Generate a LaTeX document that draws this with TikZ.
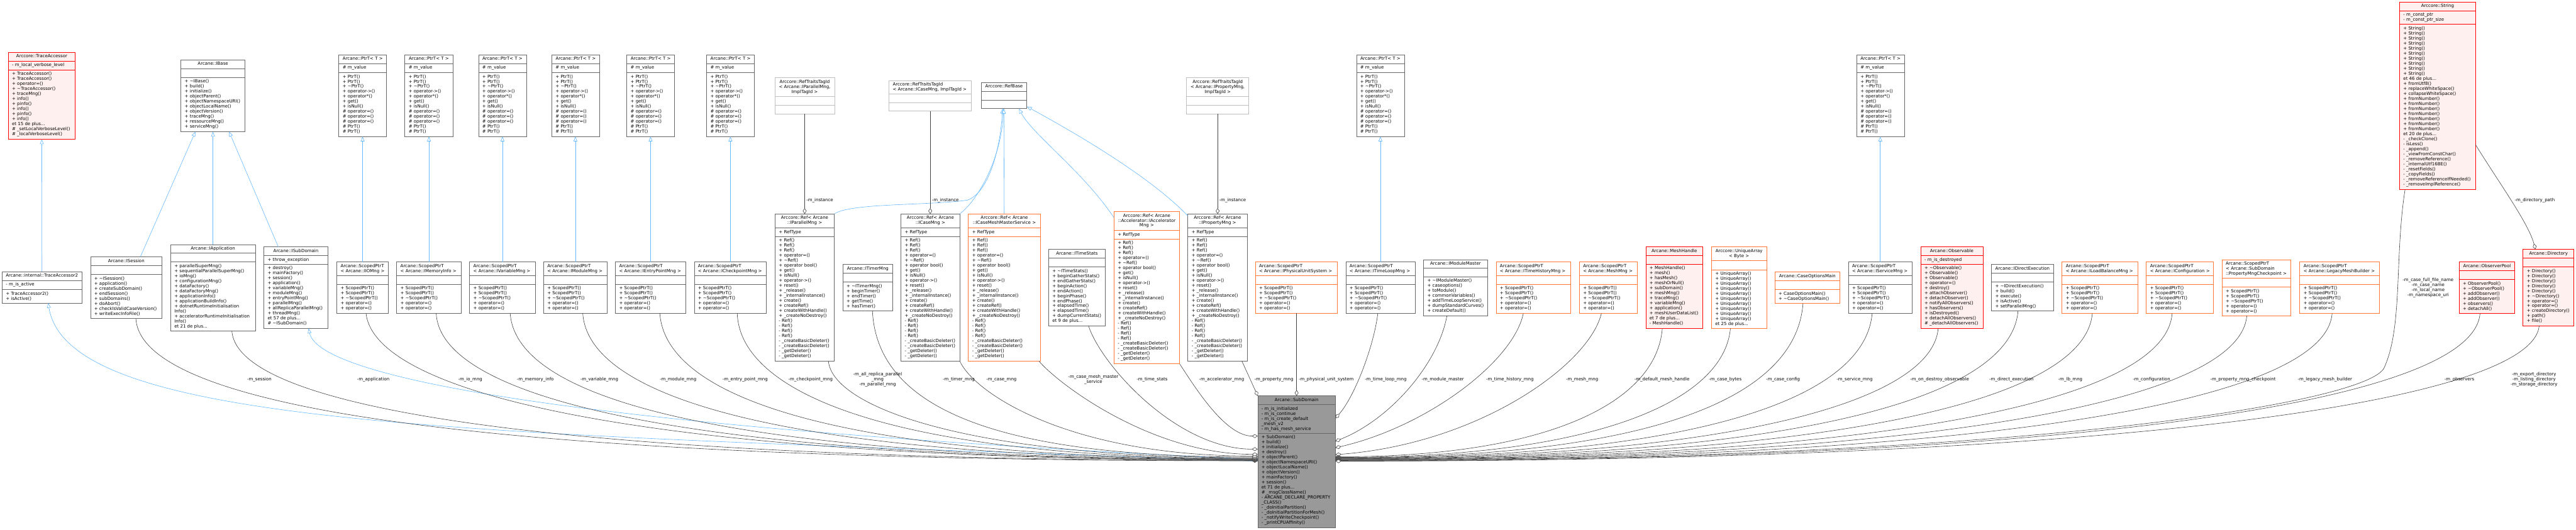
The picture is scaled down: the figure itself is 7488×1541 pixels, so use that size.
\documentclass[tikz,border=0pt]{standalone}
\usepackage{fontspec}
\setmainfont{DejaVu Sans}
\usetikzlibrary{arrows.meta}
\definecolor{edgeblue}{HTML}{63B8FF}
\definecolor{edgedark}{HTML}{404040}
\definecolor{bgray}{HTML}{666666}
\definecolor{blight}{HTML}{BFBFBF}
\definecolor{bred}{HTML}{FF0000}
\definecolor{borange}{HTML}{FF7733}
\definecolor{pinkF}{HTML}{FFF0F0}
\definecolor{subF}{HTML}{999999}
\newcommand\tld{\textasciitilde}
\newcommand\cbox[9]{%
  \gdef\cid{#1}\gdef\cL{#4}\gdef\cT{#5}\gdef\cR{#6}\gdef\cSa{#7}\gdef\cSb{#8}%
  \node[cls, draw=#2, fill=#3, minimum width={#6-#4}, minimum height={#9-#5}] (#1) at (#4,#5) {};
  \draw[line width=1.3pt, draw=#2] (#4,#7) -- (#6,#7) (#4,#8) -- (#6,#8);}
\newcommand\ttl[1]{\node[txt, align=center, anchor=north] (\cid-t) at ({(\cL+\cR)/2},{\cT+6}) {#1};}
\newcommand\ttll[1]{\node[txt, align=left, anchor=north west] (\cid-t) at ({\cL+11},{\cT+6}) {#1};}
\newcommand\att[1]{\node[txt, align=left, anchor=north west] (\cid-a) at ({\cL+11},{\cSa+6}) {#1};}
\newcommand\mth[1]{\node[txt, align=left, anchor=north west] (\cid-m) at ({\cL+11},{\cSb+6}) {#1};}
\newcommand\ptrmeths{+ PtrT()\\+ PtrT()\\+ \tld PtrT()\\+ operator->()\\+ operator*()\\+ get()\\+ isNull()\\\# operator=()\\\# operator=()\\\# operator=()\\\# PtrT()\\\# PtrT()}
\newcommand\spmeths{+ ScopedPtrT()\\+ ScopedPtrT()\\+ \tld ScopedPtrT()\\+ operator=()\\+ operator=()}
\newcommand\refmeths{+ Ref()\\+ Ref()\\+ Ref()\\+ operator=()\\+ \tld Ref()\\+ operator bool()\\+ get()\\+ isNull()\\+ operator->()\\+ reset()\\+ \_release()\\+ \_internalInstance()\\+ create()\\+ createRef()\\+ createWithHandle()\\+ \_createNoDestroy()\\- Ref()\\- Ref()\\- Ref()\\- Ref()\\- \_createBasicDeleter()\\- \_createBasicDeleter()\\- \_getDeleter()\\- \_getDeleter()}
\newcommand\ptrbox[2]{\cbox{#1}{bgray}{white}{#2}{160}{#2+139}{185}{211}{397}\ttl{Arcane::PtrT< T >}\att{\# m\_value}\mth{\ptrmeths}}
\newcommand\spbox[5]{\cbox{#1}{#2}{white}{#3}{762}{#4}{802}{827}{911}\ttll{Arcane::ScopedPtrT\\< Arcane::#5 >}\mth{\spmeths}}
\newcommand\refbox[5]{\cbox{#1}{#2}{white}{#3}{622}{#4}{663}{688}{1050}\ttl{Arccore::Ref< Arcane\\::#5 >}\att{+ RefType}\mth{\refmeths}}
\begin{document}
\begin{tikzpicture}[x=1pt,y=-1pt,
  cls/.style={anchor=north west, inner sep=0pt, outer sep=0pt, line width=1.3pt},
  txt/.style={inner sep=0pt, outer sep=0pt, font=\fontsize{12.8}{14.6}\selectfont, text=black},
  lbl/.style={txt, align=center, anchor=center},
  inh/.style={draw=edgeblue, line width=1.1pt, -{Triangle[length=14pt,width=11pt,fill=white]}},
  comp/.style={draw=edgedark, line width=1.1pt, -{Diamond[length=17pt,width=11pt,fill=white]}}]
\useasboundingbox (0,0) rectangle (7488,1541);
\fill[white] (0,0) rectangle (7488,1541);
% ---------------- top row
\cbox{TA}{bred}{pinkF}{24}{152}{219}{178}{203}{405}
\ttl{Arccore::TraceAccessor}
\att{- m\_local\_verbose\_level}
\mth{+ TraceAccessor()\\+ TraceAccessor()\\+ operator=()\\+ \tld TraceAccessor()\\+ traceMng()\\+ info()\\+ pinfo()\\+ info()\\+ pinfo()\\+ info()\\et 15 de plus...\\\# \_setLocalVerboseLevel()\\\# \_localVerboseLevel()}
\cbox{IBase}{bgray}{white}{526}{174}{712}{200}{225}{383}
\ttl{Arcane::IBase}
\mth{+ \tld IBase()\\+ build()\\+ initialize()\\+ objectParent()\\+ objectNamespaceURI()\\+ objectLocalName()\\+ objectVersion()\\+ traceMng()\\+ ressourceMng()\\+ serviceMng()}
\ptrbox{P1}{985}
\ptrbox{P2}{1177}
\ptrbox{P3}{1391}
\ptrbox{P4}{1604}
\ptrbox{P5}{1822}
\ptrbox{P6}{2054}
\ptrbox{P7}{3943}
\ptrbox{P8}{5397}
\cbox{RTP}{blight}{white}{2252}{226}{2426}{280}{306}{331}
\ttl{Arccore::RefTraitsTagId\\< Arcane::IParallelMng,\\ImplTagId >}
\cbox{RTC}{blight}{white}{2584}{234}{2824}{273}{298}{323}
\ttll{Arccore::RefTraitsTagId\\< Arcane::ICaseMng, ImplTagId >}
\cbox{RB}{bgray}{white}{2852}{240}{2985}{266}{291}{316}
\ttl{Arccore::RefBase}
\cbox{RTR}{blight}{white}{3449}{226}{3630}{280}{306}{331}
\ttl{Arccore::RefTraitsTagId\\< Arcane::IPropertyMng,\\ImplTagId >}
\cbox{Str}{bred}{pinkF}{6975}{6}{7196}{31}{71}{551}
\ttl{Arccore::String}
\att{- m\_const\_ptr\\- m\_const\_ptr\_size}
\mth{+ String()\\+ String()\\+ String()\\+ String()\\+ String()\\+ String()\\+ String()\\+ String()\\+ String()\\+ String()\\et 46 de plus...\\+ fromUtf8()\\+ replaceWhiteSpace()\\+ collapseWhiteSpace()\\+ fromNumber()\\+ fromNumber()\\+ fromNumber()\\+ fromNumber()\\+ fromNumber()\\+ fromNumber()\\+ fromNumber()\\et 20 de plus...\\- \_checkClone()\\- isLess()\\- \_append()\\- \_viewFromConstChar()\\- \_removeReference()\\- \_internalUtf16BE()\\- \_resetFields()\\- \_copyFields()\\- \_removeReferenceIfNeeded()\\- \_removeImplReference()}
% ---------------- middle row
\cbox{TA2}{bgray}{white}{6}{790}{238}{816}{842}{881}
\ttl{Arcane::internal::TraceAccessor2}
\att{- m\_is\_active}
\mth{+ TraceAccessor2()\\+ isActive()}
\cbox{ISes}{bgray}{white}{263}{747}{471}{773}{798}{926}
\ttl{Arcane::ISession}
\mth{+ \tld ISession()\\+ application()\\+ createSubDomain()\\+ endSession()\\+ subDomains()\\+ doAbort()\\+ checkIsValidCaseVersion()\\+ writeExecInfoFile()}
\cbox{IApp}{bgray}{white}{496}{711}{742}{736}{762}{962}
\ttl{Arcane::IApplication}
\mth{+ parallelSuperMng()\\+ sequentialParallelSuperMng()\\+ ioMng()\\+ configurationMng()\\+ dataFactory()\\+ dataFactoryMng()\\+ applicationInfo()\\+ applicationBuildInfo()\\+ dotnetRuntimeInitialisation\\Info()\\+ acceleratorRuntimeInitialisation\\Info()\\et 21 de plus...}
\cbox{ISD}{bgray}{white}{767}{718}{953}{743}{768}{955}
\ttl{Arcane::ISubDomain}
\att{+ throw\_exception}
\mth{+ destroy()\\+ mainFactory()\\+ session()\\+ application()\\+ variableMng()\\+ moduleMng()\\+ entryPointMng()\\+ parallelMng()\\+ allReplicaParallelMng()\\+ threadMng()\\et 57 de plus...\\\# \tld ISubDomain()}
\spbox{SIIO}{bgray}{979}{1129}{IIOMng}
\spbox{SMem}{bgray}{1153}{1341}{IMemoryInfo}
\spbox{SVar}{bgray}{1365}{1556}{IVariableMng}
\spbox{SMod}{bgray}{1580}{1765}{IModuleMng}
\spbox{SEP}{bgray}{1789}{1993}{IEntryPointMng}
\spbox{SCK}{bgray}{2018}{2228}{ICheckpointMng}
\refbox{RefPM}{bgray}{2253}{2425}{IParallelMng}
\cbox{ITimer}{bgray}{white}{2450}{769}{2595}{794}{820}{904}
\ttl{Arcane::ITimerMng}
\mth{+ \tld ITimerMng()\\+ beginTimer()\\+ endTimer()\\+ getTime()\\+ hasTimer()}
\refbox{RefCM}{bgray}{2619}{2790}{ICaseMng}
\refbox{RefCMMS}{borange}{2815}{3024}{ICaseMeshMasterService}
\cbox{ITS}{bgray}{white}{3048}{725}{3213}{750}{776}{947}
\ttl{Arcane::ITimeStats}
\mth{+ \tld ITimeStats()\\+ beginGatherStats()\\+ endGatherStats()\\+ beginAction()\\+ endAction()\\+ beginPhase()\\+ endPhase()\\+ elapsedTime()\\+ elapsedTime()\\+ dumpCurrentStats()\\et 9 de plus...}
\cbox{RefAcc}{borange}{white}{3238}{615}{3429}{670}{695}{1058}
\ttl{Arccore::Ref< Arcane\\::Accelerator::IAccelerator\\Mng >}
\att{+ RefType}
\mth{\refmeths}
\refbox{RefPr}{bgray}{3453}{3625}{IPropertyMng}
\spbox{SPhys}{borange}{3649}{3887}{IPhysicalUnitSystem}
\spbox{STL}{bgray}{3912}{4113}{ITimeLoopMng}
\cbox{IMM}{bgray}{white}{4138}{755}{4324}{780}{805}{918}
\ttl{Arcane::IModuleMaster}
\mth{+ \tld IModuleMaster()\\+ caseoptions()\\+ toModule()\\+ commonVariables()\\+ addTimeLoopService()\\+ dumpStandardCurves()\\+ createDefault()}
\spbox{STH}{borange}{4349}{4566}{ITimeHistoryMng}
\spbox{SMM}{borange}{4591}{4760}{MeshMng}
\cbox{MH}{bred}{pinkF}{4784}{718}{4950}{743}{768}{955}
\ttl{Arcane::MeshHandle}
\mth{+ MeshHandle()\\+ mesh()\\+ hasMesh()\\+ meshOrNull()\\+ subDomain()\\+ meshMng()\\+ traceMng()\\+ variableMng()\\+ application()\\+ meshUserDataList()\\et 7 de plus...\\- MeshHandle()}
\cbox{UA}{borange}{white}{4975}{718}{5135}{758}{784}{955}
\ttl{Arccore::UniqueArray\\< Byte >}
\mth{+ UniqueArray()\\+ UniqueArray()\\+ UniqueArray()\\+ UniqueArray()\\+ UniqueArray()\\+ UniqueArray()\\+ UniqueArray()\\+ UniqueArray()\\+ UniqueArray()\\+ UniqueArray()\\et 25 de plus...}
\cbox{COM}{borange}{white}{5159}{791}{5348}{816}{842}{882}
\ttl{Arcane::CaseOptionsMain}
\mth{+ CaseOptionsMain()\\+ \tld CaseOptionsMain()}
\spbox{SSM}{bgray}{5373}{5558}{IServiceMng}
\cbox{Obs}{bred}{pinkF}{5583}{718}{5764}{743}{768}{955}
\ttl{Arcane::Observable}
\att{- m\_is\_destroyed}
\mth{+ \tld Observable()\\+ Observable()\\+ Observable()\\+ operator=()\\+ destroy()\\+ attachObserver()\\+ detachObserver()\\+ notifyAllObservers()\\+ hasObservers()\\+ isDestroyed()\\+ detachAllObservers()\\\# \_detachAllObservers()}
\cbox{IDE}{bgray}{white}{5789}{769}{5969}{794}{820}{904}
\ttl{Arcane::IDirectExecution}
\mth{+ \tld IDirectExecution()\\+ build()\\+ execute()\\+ isActive()\\+ setParallelMng()}
\spbox{SLB}{borange}{5994}{6214}{ILoadBalanceMng}
\spbox{SConf}{borange}{6239}{6434}{IConfiguration}
\cbox{SPMC}{borange}{white}{6459}{755}{6659}{809}{835}{918}
\ttll{Arcane::ScopedPtrT\\< Arcane::SubDomain\\::PropertyMngCheckpoint >}
\mth{\spmeths}
\spbox{SLMB}{borange}{6685}{6916}{LegacyMeshBuilder}
\cbox{OP}{bred}{pinkF}{7148}{762}{7310}{787}{813}{911}
\ttl{Arcane::ObserverPool}
\mth{+ ObserverPool()\\+ \tld ObserverPool()\\+ addObserver()\\+ addObserver()\\+ observers()\\+ detachAll()}
\cbox{Dir}{bred}{pinkF}{7334}{725}{7482}{750}{776}{947}
\ttl{Arcane::Directory}
\mth{+ Directory()\\+ Directory()\\+ Directory()\\+ Directory()\\+ Directory()\\+ \tld Directory()\\+ operator=()\\+ operator=()\\+ createDirectory()\\+ path()\\+ file()}
% ---------------- central node
\cbox{SubD}{bgray}{subF}{3656}{1151}{3882}{1177}{1260}{1535}
\ttl{Arcane::SubDomain}
\att{- m\_is\_initialized\\- m\_is\_continue\\- m\_is\_create\_default\\\_mesh\_v2\\- m\_has\_mesh\_service}
\mth{+ SubDomain()\\+ build()\\+ initialize()\\+ destroy()\\+ objectParent()\\+ objectNamespaceURI()\\+ objectLocalName()\\+ objectVersion()\\+ mainFactory()\\+ session()\\et 71 de plus...\\\# \_msgClassName()\\- ARCANE\_DECLARE\_PROPERTY\\\_CLASS()\\- \_doInitialPartition()\\- \_doInitialPartitionForMesh()\\- \_notifyWriteCheckpoint()\\- \_printCPUAffinity()}
% ---------------- inheritance edges
\draw[inh] (TA2.north) -- (TA.south);
\draw[inh] ([xshift=145pt]ISes.north west) -- ([xshift=42pt]IBase.south west);
\draw[inh] (IApp.north) -- (IBase.south);
\draw[inh] ([xshift=42pt]ISD.north west) -- ([xshift=140pt]IBase.south west);
\draw[inh] (SIIO.north) -- (SIIO.north |- P1.south);
\draw[inh] (SMem.north) -- (SMem.north |- P2.south);
\draw[inh] (SVar.north) -- (SVar.north |- P3.south);
\draw[inh] (SMod.north) -- (SMod.north |- P4.south);
\draw[inh] (SEP.north) -- (SEP.north |- P5.south);
\draw[inh] (SCK.north) -- (SCK.north |- P6.south);
\draw[inh] (STL.north) -- (STL.north |- P7.south);
\draw[inh] (SSM.north) -- (SSM.north |- P8.south);
\draw[inh] (RefPM.north east) .. controls (2470,590) and (2700,598) .. (2812,582) .. controls (2875,560) and (2908,430) .. ([xshift=62pt]RB.south west);
\draw[inh] (RefCM.north east) .. controls (2850,575) and (2912,450) .. ([xshift=65pt]RB.south west);
\draw[inh] ([xshift=104pt]RefCMMS.north west) -- ([xshift=66pt]RB.south west);
\draw[inh] ([yshift=-18pt]RefAcc.north west) .. controls (3150,500) and (3000,390) .. ([xshift=110pt]RB.south west);
\draw[inh] ([yshift=-6pt]RefPr.north west) .. controls (3350,520) and (3150,400) .. ([yshift=6pt]RB.south east);
\draw[inh] ([yshift=-190pt]SubD.north west) .. controls (1400,1260) and (200,1250) .. ([xshift=134pt]TA2.south west);
\draw[inh] ([yshift=-185pt]SubD.north west) .. controls (1800,1250) and (930,1110) .. ([xshift=130pt]ISD.south west);
% ---------------- composition edges (left side)
\draw[comp] ([xshift=132pt]ISes.south west) .. controls (410,1200) and (1500,1340) .. ([yshift=-189pt]SubD.north west);
\draw[comp] ([xshift=178pt]IApp.south west) .. controls (690,1200) and (1700,1339) .. ([yshift=-188pt]SubD.north west);
\draw[comp] ([xshift=85pt]SIIO.south west) .. controls (1090,1150) and (1900,1338) .. ([yshift=-187pt]SubD.north west);
\draw[comp] ([xshift=115pt]SMem.south west) .. controls (1280,1160) and (2000,1337) .. ([yshift=-186pt]SubD.north west);
\draw[comp] ([xshift=118pt]SVar.south west) .. controls (1500,1160) and (2100,1336) .. ([yshift=-185pt]SubD.north west);
\draw[comp] ([xshift=114pt]SMod.south west) .. controls (1710,1160) and (2300,1335) .. ([yshift=-184pt]SubD.north west);
\draw[comp] ([xshift=129pt]SEP.south west) .. controls (1935,1160) and (2450,1334) .. ([yshift=-183pt]SubD.north west);
\draw[comp] ([xshift=125pt]SCK.south west) .. controls (2150,1130) and (2550,1333) .. ([yshift=-182pt]SubD.north west);
\draw[comp] ([xshift=155pt]RefPM.south west) .. controls (2420,1180) and (2800,1331) .. ([yshift=-180pt]SubD.north west);
\draw[comp] ([xshift=86pt]ITimer.south west) .. controls (2550,1195) and (2917,1329) .. ([yshift=-178pt]SubD.north west);
\draw[comp] (RefCM.south east) .. controls (2830,1140) and (3100,1326) .. ([yshift=-175pt]SubD.north west);
\draw[comp] ([xshift=205pt]RefCMMS.south west) .. controls (3080,1120) and (3350,1321) .. ([yshift=-170pt]SubD.north west);
\draw[comp] ([xshift=116pt]ITS.south west) .. controls (3200,1060) and (3420,1306) .. ([yshift=-155pt]SubD.north west);
\draw[comp] (RefAcc.south east) .. controls (3470,1120) and (3560,1268) .. ([yshift=-117pt]SubD.north west);
\draw[comp] ([xshift=157pt]RefPr.south west) -- (SubD.north west);
% ---------------- composition edges (right side)
\draw[comp] ([xshift=120pt]SPhys.south west) -- ([xshift=113pt]SubD.north west);
\draw[comp] ([xshift=93pt]STL.south west) .. controls (3995,1000) and (3940,1150) .. ([yshift=-65pt]SubD.north east);
\draw[comp] ([xshift=68pt]IMM.south west) .. controls (4180,1060) and (4040,1220) .. ([yshift=-132pt]SubD.north east);
\draw[comp] ([xshift=79pt]STH.south west) .. controls (4400,1050) and (4150,1240) .. ([yshift=-151pt]SubD.north east);
\draw[comp] ([xshift=64pt]SMM.south west) .. controls (4620,1060) and (4300,1290) .. ([yshift=-171pt]SubD.north east);
\draw[comp] ([xshift=48pt]MH.south west) .. controls (4815,1170) and (4500,1328) .. ([yshift=-177pt]SubD.north east);
\draw[comp] ([xshift=55pt]UA.south west) .. controls (5010,1170) and (4628,1330) .. ([yshift=-179pt]SubD.north east);
\draw[comp] ([xshift=82pt]COM.south west) .. controls (5220,1170) and (4765,1331) .. ([yshift=-180pt]SubD.north east);
\draw[comp] ([xshift=69pt]SSM.south west) .. controls (5420,1170) and (4896,1332) .. ([yshift=-181pt]SubD.north east);
\draw[comp] ([xshift=51pt]Obs.south west) .. controls (5615,1170) and (5021,1333) .. ([yshift=-182pt]SubD.north east);
\draw[comp] ([xshift=77pt]IDE.south west) .. controls (5845,1170) and (5172,1334) .. ([yshift=-183pt]SubD.north east);
\draw[comp] ([xshift=88pt]SLB.south west) .. controls (6060,1170) and (5312,1335) .. ([yshift=-184pt]SubD.north east);
\draw[comp] ([xshift=75pt]SConf.south west) .. controls (6295,1170) and (5463,1336) .. ([yshift=-185pt]SubD.north east);
\draw[comp] ([xshift=72pt]SPMC.south west) .. controls (6510,1170) and (5604,1337) .. ([yshift=-186pt]SubD.north east);
\draw[comp] ([xshift=94pt]SLMB.south west) .. controls (6760,1170) and (5765,1338) .. ([yshift=-187pt]SubD.north east);
\draw[comp] ([xshift=16pt]Str.south west) .. controls (6960,750) and (6985,950) .. (6930,1070) .. controls (6880,1170) and (5900,1339) .. ([yshift=-188pt]SubD.north east);
\draw[comp] ([xshift=61pt]OP.south west) .. controls (7190,1170) and (6045,1340) .. ([yshift=-189pt]SubD.north east);
\draw[comp] ([xshift=47pt]Dir.south west) .. controls (7360,1170) and (6156,1341) .. ([yshift=-190pt]SubD.north east);
% ---------------- other composition edges
\draw[comp] (RTP.south) -- (RTP.south |- RefPM.north);
\draw[comp] (RTC.south) -- (RTC.south |- RefCM.north);
\draw[comp] (RTR.south) -- (RTR.south |- RefPr.north);
\draw[comp] ([yshift=-415pt]Str.north east) .. controls (7270,540) and (7350,650) .. ([xshift=36pt]Dir.north west);
% ---------------- edge labels
\node[lbl] (l1) at (754,1104) {-m\_session};
\node[lbl] (l2) at (1085,1104) {-m\_application};
\node[lbl] (l3) at (1367,1104) {-m\_io\_mng};
\node[lbl] (l4) at (1556,1104) {-m\_memory\_info};
\node[lbl] (l5) at (1742,1104) {-m\_variable\_mng};
\node[lbl] (l6) at (1971,1104) {-m\_module\_mng};
\node[lbl] (l7) at (2166,1104) {-m\_entry\_point\_mng};
\node[lbl] (l8) at (2356,1104) {-m\_checkpoint\_mng};
\node[lbl] (l9) at (2551,1104) {-m\_all\_replica\_parallel\\\_mng\\-m\_parallel\_mng};
\node[lbl] (l10) at (2787,1104) {-m\_timer\_mng};
\node[lbl] (l11) at (2911,1104) {-m\_case\_mng};
\node[lbl] (l12) at (3178,1104) {-m\_case\_mesh\_master\\\_service};
\node[lbl] (l13) at (3349,1104) {-m\_time\_stats};
\node[lbl] (l14) at (3551,1104) {-m\_accelerator\_mng};
\node[lbl] (l15) at (3703,1104) {-m\_property\_mng};
\node[lbl] (l16) at (3855,1104) {-m\_physical\_unit\_system};
\node[lbl] (l17) at (4028,1104) {-m\_time\_loop\_mng};
\node[lbl] (l18) at (4194,1104) {-m\_module\_master};
\node[lbl] (l19) at (4389,1104) {-m\_time\_history\_mng};
\node[lbl] (l20) at (4599,1104) {-m\_mesh\_mng};
\node[lbl] (l21) at (4831,1104) {-m\_default\_mesh\_handle};
\node[lbl] (l22) at (5015,1104) {-m\_case\_bytes};
\node[lbl] (l23) at (5183,1104) {-m\_case\_config};
\node[lbl] (l24) at (5391,1104) {-m\_service\_mng};
\node[lbl] (l25) at (5638,1104) {-m\_on\_destroy\_observable};
\node[lbl] (l26) at (5847,1104) {-m\_direct\_execution};
\node[lbl] (l27) at (6018,1104) {-m\_lb\_mng};
\node[lbl] (l28) at (6254,1104) {-m\_configuration};
\node[lbl] (l29) at (6520,1104) {-m\_property\_mng\_checkpoint};
\node[lbl] (l30) at (6758,1104) {-m\_legacy\_mesh\_builder};
\node[lbl] (l31) at (7058,836) {-m\_case\_full\_file\_name\\-m\_case\_name\\-m\_local\_name\\-m\_namespace\_uri};
\node[lbl] (l32) at (7149,1104) {-m\_observers};
\node[lbl] (l33) at (7366,1104) {-m\_export\_directory\\-m\_listing\_directory\\-m\_storage\_directory};
\node[lbl] (l34) at (7368,583) {-m\_directory\_path};
\node[lbl] (l35) at (2383,583) {-m\_instance};
\node[lbl] (l36) at (2748,583) {-m\_instance};
\node[lbl] (l37) at (3583,583) {-m\_instance};
\end{tikzpicture}
\end{document}
